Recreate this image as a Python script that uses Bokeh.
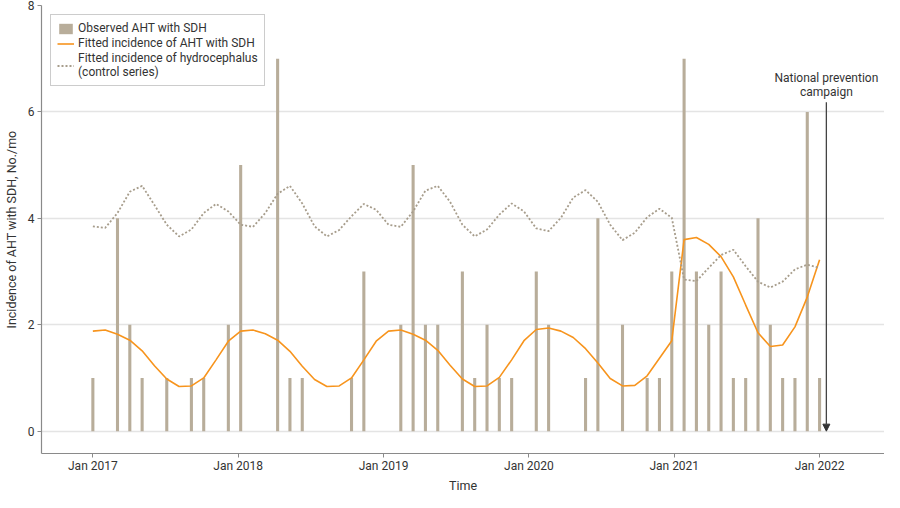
from bokeh.plotting import figure
from bokeh.models import (ColumnDataSource, Range1d, FixedTicker, Legend, LegendItem,
                          Arrow, NormalHead, Label, Title)
from bokeh.embed import file_html
from bokeh.resources import INLINE

# ---- data (monthly, Jan 2017 - Dec 2021) ----
month_index = list(range(60))
observed = [1, 0, 4, 2, 1, 0, 1, 0, 1, 1, 0, 2,
            5, 0, 0, 7, 1, 1, 0, 0, 0, 1, 3, 0,
            0, 2, 5, 2, 2, 0, 3, 1, 2, 1, 1, 0,
            3, 2, 0, 0, 1, 4, 0, 2, 0, 1, 1, 3,
            7, 3, 2, 3, 1, 1, 4, 2, 1, 1, 6, 1]
fitted_aht = [1.88, 1.90, 1.82, 1.71, 1.51, 1.23, 0.98, 0.84, 0.85, 1.00, 1.34, 1.69,
              1.88, 1.90, 1.83, 1.71, 1.50, 1.22, 0.97, 0.84, 0.85, 1.00, 1.34, 1.69,
              1.88, 1.90, 1.82, 1.71, 1.52, 1.24, 0.98, 0.84, 0.85, 1.01, 1.34, 1.70,
              1.91, 1.94, 1.88, 1.76, 1.55, 1.28, 0.99, 0.85, 0.86, 1.04, 1.37, 1.70,
              3.60, 3.64, 3.51, 3.28, 2.90, 2.37, 1.85, 1.59, 1.62, 1.96, 2.52, 3.22]
fitted_hydro = [3.85, 3.82, 4.10, 4.50, 4.61, 4.25, 3.88, 3.66, 3.79, 4.10, 4.27, 4.13,
                3.88, 3.84, 4.10, 4.46, 4.61, 4.28, 3.85, 3.66, 3.78, 4.04, 4.27, 4.16,
                3.88, 3.84, 4.13, 4.52, 4.61, 4.31, 3.88, 3.66, 3.79, 4.07, 4.28, 4.13,
                3.81, 3.76, 4.01, 4.39, 4.53, 4.31, 3.88, 3.59, 3.73, 4.02, 4.18, 4.01,
                2.85, 2.82, 3.07, 3.31, 3.41, 3.10, 2.81, 2.70, 2.81, 3.04, 3.13, 3.07]
tick_labels = ["Jan 2017", "Jan 2018", "Jan 2019", "Jan 2020", "Jan 2021", "Jan 2022"]
y_ticks = [0, 2, 4, 6, 8]
campaign_x = 59.55
campaign_top = 6.18
campaign_text = ["National prevention", "campaign"]
x_title = "Time"

FONT = "Roboto"
FS = "12px"
TXT = "#333333"
BAR = "#b8ad9a"
ORANGE = "#f7941d"
DOT = "#a79d8c"

X0, X1 = -4.17, 64.27
src = ColumnDataSource(dict(x=month_index, obs=observed, aht=fitted_aht, hyd=fitted_hydro))

p = figure(width=884, height=492, output_backend="svg", toolbar_location=None,
           x_range=Range1d(X0, X1), y_range=Range1d(-0.42, 8),
           min_border_left=30, min_border_right=0, min_border_top=5, min_border_bottom=0)
p.outline_line_color = None
p.background_fill_color = "white"

bars = p.vbar(x="x", top="obs", bottom=0, width=0.25, source=src,
              fill_color=BAR, line_color=None)
l_aht = p.line("x", "aht", source=src, line_color=ORANGE, line_width=1.6)
l_hyd = p.line("x", "hyd", source=src, line_color=DOT, line_width=1.8, line_dash="2 2")

# axes
n = len(month_index)
tick_pos = [i * (n - 1) / (len(tick_labels) - 1) for i in range(len(tick_labels))]
p.xaxis.ticker = FixedTicker(ticks=tick_pos)
p.xaxis.major_label_overrides = {t: lab for t, lab in zip(tick_pos, tick_labels)}
p.yaxis.ticker = FixedTicker(ticks=y_ticks)
for ax in (p.xaxis, p.yaxis):
    ax.axis_line_color = "#8a8a8a"
    ax.axis_line_width = 1.2
    ax.major_tick_line_color = "#8a8a8a"
    ax.major_tick_in = 0
    ax.major_tick_out = 4
    ax.minor_tick_line_color = None
    ax.major_label_text_font = FONT
    ax.major_label_text_font_size = FS
    ax.major_label_text_color = TXT
    ax.axis_label_text_font = FONT
    ax.axis_label_text_font_size = "12.5px"
    ax.axis_label_text_font_style = "normal"
    ax.axis_label_text_color = TXT
p.yaxis.axis_label = "Incidence of AHT with SDH, No./mo"
p.xaxis.major_label_standoff = 1
p.yaxis.major_label_standoff = 3
p.yaxis.axis_label_standoff = 6

# x-axis title as a panel title below the axis
p.add_layout(Title(text=x_title, align="center", text_font=FONT, text_font_size="12.5px",
                   text_font_style="normal", text_color=TXT, standoff=0, offset=0,
                   text_line_height=0.8, vertical_align="bottom"),
             "below")

p.xgrid.grid_line_color = None
p.ygrid.grid_line_color = "#e4e4e4"
p.ygrid.grid_line_width = 1.5

# campaign arrow + label
p.add_layout(Arrow(end=NormalHead(size=7, fill_color="#333333", line_color="#333333"),
                   x_start=campaign_x, y_start=campaign_top, x_end=campaign_x, y_end=0,
                   line_color="#444444", line_width=1.3))
p.add_layout(Label(x=campaign_x, y=campaign_top, text=campaign_text[0], y_offset=17,
                   text_align="center", text_baseline="bottom", text_font=FONT,
                   text_font_size=FS, text_color=TXT))
p.add_layout(Label(x=campaign_x, y=campaign_top, text=campaign_text[1], y_offset=3,
                   text_align="center", text_baseline="bottom", text_font=FONT,
                   text_font_size=FS, text_color=TXT))

legend = Legend(items=[
    LegendItem(label="Observed AHT with SDH", renderers=[bars]),
    LegendItem(label="Fitted incidence of AHT with SDH", renderers=[l_aht]),
    LegendItem(label="Fitted incidence of hydrocephalus\n(control series)", renderers=[l_hyd]),
], location="top_left")
legend.margin = 9
legend.padding = 6
legend.spacing = 1
legend.glyph_width = 17
legend.glyph_height = 13
legend.label_height = 13
legend.label_standoff = 4
legend.label_text_font = FONT
legend.label_text_font_size = FS
legend.label_text_color = TXT
legend.border_line_color = "#999999"
legend.border_line_width = 1
legend.background_fill_alpha = 1
p.add_layout(legend)

open("out.html", "w").write(file_html(p, INLINE))
